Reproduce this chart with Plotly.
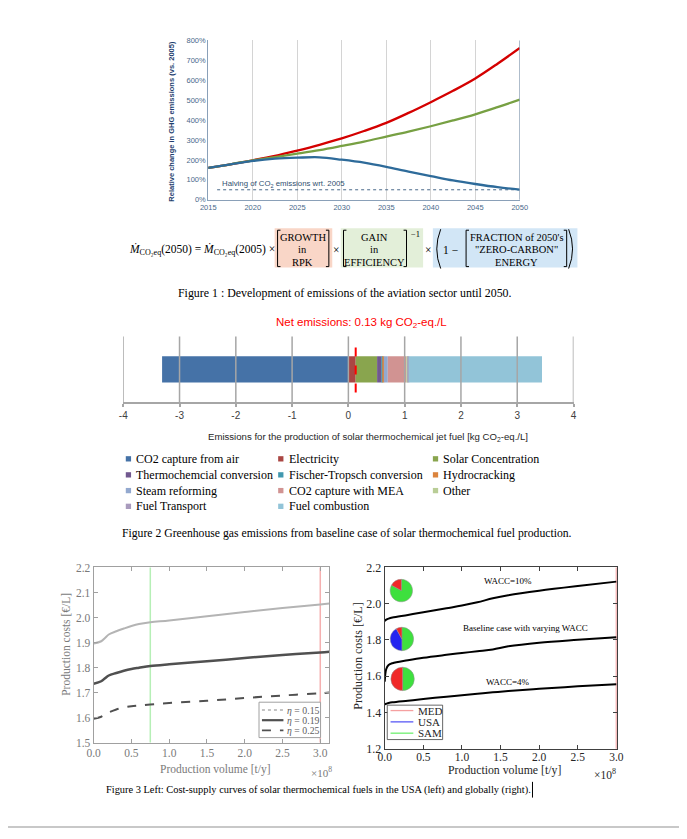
import plotly.graph_objects as go

W, H = 687, 839
def X(px): return px / W
def Y(py): return 1 - py / H

SERIF = "Liberation Serif"
SANS = "Liberation Sans"

# ---------------- Panel 1 data ----------------
years = [2015, 2017.5, 2020, 2022.5, 2025, 2027.5, 2030, 2032.5, 2035, 2037.5, 2040, 2042.5, 2045, 2047.5, 2050]
growth_only = [160, 178, 198, 220, 247, 276, 308, 345, 386, 436, 490, 547, 609, 683, 762]
with_efficiency = [160, 178, 198, 214, 231, 249, 270, 292, 317, 342, 369, 398, 429, 465, 503]
with_zero_carbon = [160, 178, 195, 206, 211, 213, 201, 186, 165, 141, 119, 97, 79, 63, 51]
halving_years = [2016, 2050]
halving_level = [50, 50]
year_ticks = [2015, 2020, 2025, 2030, 2035, 2040, 2045, 2050]
pct_ticks = [0, 100, 200, 300, 400, 500, 600, 700, 800]
pct_labels = ["0%", "100%", "200%", "300%", "400%", "500%", "600%", "700%", "800%"]

# ---------------- Panel 2 data ----------------
emission_sources = ["CO2 capture from air", "Electricity", "Solar Concentration",
                    "Thermochemcial conversion", "Fischer-Tropsch conversion", "Hydrocracking",
                    "Steam reforming", "CO2 capture with MEA", "Other",
                    "Fuel Transport", "Fuel combustion"]
emission_values = [-3.31, 0.13, 0.38, 0.08, 0.02, 0.02, 0.07, 0.33, 0.03, 0.01, 2.37]
net_emissions = [0.13]
emission_ticks = [-4, -3, -2, -1, 0, 1, 2, 3, 4]
emission_tick_labels = ["-4", "-3", "-2", "-1", "0", "1", "2", "3", "4"]
source_colors = ["#4572a7", "#aa4643", "#89a54e", "#71588f", "#4198af", "#db843d",
                 "#93a9cf", "#d19392", "#b9cd96", "#a99bbd", "#92c4d8"]

# ---------------- Panel 3 left data ----------------
vol_left = [0, 0.1, 0.15, 0.2, 0.3, 0.4, 0.5, 0.6, 0.75, 1.0, 1.5, 2.0, 2.5, 3.0, 3.12]
cost_eta015 = [1.896, 1.905, 1.918, 1.932, 1.945, 1.956, 1.966, 1.974, 1.981, 1.988, 2.005, 2.022, 2.038, 2.052, 2.056]
cost_eta019 = [1.735, 1.745, 1.757, 1.768, 1.778, 1.787, 1.794, 1.799, 1.806, 1.813, 1.825, 1.838, 1.850, 1.860, 1.863]
cost_eta025 = [1.595, 1.603, 1.612, 1.620, 1.632, 1.640, 1.645, 1.648, 1.652, 1.658, 1.667, 1.678, 1.688, 1.697, 1.700]
green_marker_vol = [0.75]
red_marker_vol = [3.0]
left_yticks = [1.5, 1.6, 1.7, 1.8, 1.9, 2.0, 2.1, 2.2]
vol_ticks = [0, 0.5, 1.0, 1.5, 2.0, 2.5, 3.0]

# ---------------- Panel 3 right data ----------------
vol_right = [0, 0.02, 0.05, 0.1, 0.3, 0.5, 0.8, 1.0, 1.2, 1.4, 1.6, 2.0, 2.5, 3.0]
cost_wacc10 = [1.905, 1.912, 1.918, 1.924, 1.938, 1.953, 1.975, 1.990, 2.008, 2.030, 2.047, 2.072, 2.098, 2.122]
cost_baseline = [1.570, 1.640, 1.662, 1.672, 1.688, 1.702, 1.718, 1.728, 1.738, 1.748, 1.765, 1.785, 1.801, 1.815]
cost_wacc4 = [1.445, 1.448, 1.452, 1.456, 1.465, 1.474, 1.487, 1.495, 1.503, 1.511, 1.518, 1.531, 1.544, 1.556]
regions = ["MED", "USA", "SAM"]
pie_wacc10_regions = ["SAM", "MED"]
pie_wacc10_share = [83, 17]
pie_baseline_regions = ["SAM", "USA", "MED"]
pie_baseline_share = [50, 42, 8]
pie_wacc4_regions = ["SAM", "MED"]
pie_wacc4_share = [50, 50]
right_yticks = [1.2, 1.4, 1.6, 1.8, 2.0, 2.2]
med_vol = [3.0]

fig = go.Figure()

# ---------- Panel 1 traces ----------
fig.add_trace(go.Scatter(x=halving_years, y=halving_level, mode="lines",
                         line=dict(color="#4a6a8a", width=1, dash="dot"), xaxis="x", yaxis="y", showlegend=False))
for ys, col in [(growth_only, "#d40000"), (with_efficiency, "#77a043"), (with_zero_carbon, "#2e6b9a")]:
    fig.add_trace(go.Scatter(x=years, y=ys, mode="lines", line=dict(color=col, width=2.3, shape="spline"),
                             xaxis="x", yaxis="y", showlegend=False))

# ---------- Panel 2 traces ----------
for name, v, c in zip(emission_sources, emission_values, source_colors):
    fig.add_trace(go.Bar(x=[v], y=[0], orientation="h", marker=dict(color=c, line=dict(width=0)),
                         width=0.4, name=name, xaxis="x2", yaxis="y2", showlegend=False))

# ---------- Panel 3 left traces ----------
fig.add_trace(go.Scatter(x=vol_left, y=cost_eta015, mode="lines", line=dict(color="#b4b4b4", width=2, shape="spline"),
                         xaxis="x3", yaxis="y3", showlegend=False))
fig.add_trace(go.Scatter(x=vol_left, y=cost_eta019, mode="lines", line=dict(color="#505050", width=2.5, shape="spline"),
                         xaxis="x3", yaxis="y3", showlegend=False))
fig.add_trace(go.Scatter(x=vol_left, y=cost_eta025, mode="lines", line=dict(color="#505050", width=2, dash="dash", shape="spline"),
                         xaxis="x3", yaxis="y3", showlegend=False))

# ---------- Panel 3 right traces ----------
for ys in [cost_wacc10, cost_baseline, cost_wacc4]:
    fig.add_trace(go.Scatter(x=vol_right, y=ys, mode="lines", line=dict(color="black", width=2, shape="spline"),
                             xaxis="x4", yaxis="y4", showlegend=False))

region_colors = {"MED": "#f02828", "USA": "#2424f0", "SAM": "#3ee03e"}
for labs, vals, (cx, cy, r) in [(pie_wacc10_regions, pie_wacc10_share, (402.7, 593.5, 11.5)),
                                (pie_baseline_regions, pie_baseline_share, (403.3, 642.7, 12)),
                                (pie_wacc4_regions, pie_wacc4_share, (404, 683.3, 12))]:
    fig.add_trace(go.Pie(values=vals, labels=labs, sort=False, direction="clockwise", rotation=0,
                         marker=dict(colors=[region_colors[l] for l in labs], line=dict(color="#909090", width=0.5)),
                         textinfo="none", hoverinfo="label+percent", showlegend=False,
                         domain=dict(x=[X(cx - r), X(cx + r)], y=[Y(cy + r), Y(cy - r)])))

shapes = []
shapes.append(dict(type="line", xref="x", yref="y domain", x0=year_ticks[-1], x1=year_ticks[-1], y0=0, y1=1,
                   line=dict(color="#8096ad", width=1.2)))
for t in emission_ticks:
    shapes.append(dict(type="line", xref="x2", yref="y2 domain", x0=t, x1=t, y0=0, y1=1,
                       line=dict(color="#a6a6a6", width=1.5), layer="above"))
shapes.append(dict(type="line", xref="x2", yref="y2", x0=net_emissions[0], x1=net_emissions[0], y0=-0.35, y1=0.4,
                   line=dict(color="#ff0000", width=2, dash="dash"), layer="above"))
shapes.append(dict(type="line", xref="x3", yref="y3 domain", x0=green_marker_vol[0], x1=green_marker_vol[0], y0=0, y1=1,
                   line=dict(color="#b6efb6", width=1.5), layer="below"))
shapes.append(dict(type="line", xref="x3", yref="y3 domain", x0=red_marker_vol[0], x1=red_marker_vol[0], y0=0, y1=1,
                   line=dict(color="#f5b0b0", width=1.5), layer="below"))
shapes.append(dict(type="line", xref="x4", yref="y4 domain", x0=med_vol[0], x1=med_vol[0], y0=0, y1=1,
                   line=dict(color="#f5a8a8", width=1.5), layer="below"))

def prect(x0, y0, x1, y1, fill, line=None, width=0, layer="below"):
    shapes.append(dict(type="rect", xref="paper", yref="paper", x0=X(x0), x1=X(x1), y0=Y(y1), y1=Y(y0),
                       fillcolor=fill, line=dict(color=line or fill, width=width), layer=layer))

def pline(x0, y0, x1, y1, color, width=1, dash="solid"):
    shapes.append(dict(type="line", xref="paper", yref="paper", x0=X(x0), x1=X(x1), y0=Y(y0), y1=Y(y1),
                       line=dict(color=color, width=width, dash=dash)))

def ppath(pts, color="black", width=1):
    d = "M" + " L".join(f"{X(a):.5f},{Y(b):.5f}" for a, b in pts)
    shapes.append(dict(type="path", xref="paper", yref="paper", path=d, line=dict(color=color, width=width)))

def paren(x, y0, y1, side):
    ym = (y0 + y1) / 2
    s = 1 if side == "l" else -1
    d = f"M{X(x+4*s):.5f},{Y(y0):.5f} Q{X(x-4*s):.5f},{Y(ym):.5f} {X(x+4*s):.5f},{Y(y1):.5f}"
    shapes.append(dict(type="path", xref="paper", yref="paper", path=d, line=dict(color="black", width=1)))

def bracket(x, y0, y1, side, w=3):
    s = 1 if side == "l" else -1
    ppath([(x + s * w, y0), (x, y0), (x, y1), (x + s * w, y1)], width=1)

annotations = []
def txt(s, px, py, size, color="black", family=SERIF, xanchor="center", yanchor="middle", angle=0):
    annotations.append(dict(text=s, x=X(px), y=Y(py), xref="paper", yref="paper", showarrow=False,
                            font=dict(size=size, color=color, family=family), xanchor=xanchor,
                            yanchor=yanchor, textangle=angle))

# ---------- Panel 1 text ----------
txt("<b>Relative change in GHG emissions (vs. 2005)</b>", 167, 116.5, 7.5, color="#1f3f6f", family=SANS, angle=-90)
annotations.append(dict(text="Halving of CO<sub>2</sub> emissions wrt. 2005", x=2016.3, y=50, xref="x", yref="y",
                        showarrow=False, font=dict(size=7.8, color="#2f4f6f", family=SANS),
                        xanchor="left", yanchor="bottom", yshift=-1))

# ---------- Formula ----------
prect(273, 225, 332, 265, "#f9d6c7")
prect(340.7, 225, 425, 265, "#e3efd9")
prect(435, 225, 583, 265, "#d2e6f6")
txt("<i>Ṁ</i><sub>CO₂eq</sub>(2050) = <i>Ṁ</i><sub>CO₂eq</sub>(2005) ×", 122, 247, 11.5, xanchor="left")
for i, line in enumerate(["GROWTH", "in", "RPK"]):
    txt(line, 302, 234 + 13 * i, 10.5)
bracket(276, 227, 264, "l"); bracket(328.5, 227, 264, "r")
txt("×", 336, 247, 11.5)
for i, line in enumerate(["GAIN", "in", "EFFICIENCY"]):
    txt(line, 375.5, 234 + 13 * i, 10.5)
bracket(343.5, 227, 264, "l"); bracket(408, 227, 264, "r")
txt("−1", 417, 231, 8.5)
txt("×", 430.5, 247, 11.5)
paren(439, 226, 266, "l")
txt("1 −", 453, 247, 11.5)
bracket(469, 227, 264, "l")
for i, line in enumerate(["FRACTION of 2050's", "\"ZERO-CARBON\"", "ENERGY"]):
    txt(line, 520.5, 234 + 13 * i, 10.5)
bracket(572, 227, 264, "r")
paren(578, 226, 266, "r")
txt("Figure 1 : Development of emissions of the aviation sector until 2050.", 345.5, 291, 11.9)

# ---------- Panel 2 text ----------
txt("Net emissions: 0.13 kg CO<sub>2</sub>-eq./L", 362, 321, 11.5, color="#ff0000", family=SANS)
txt("Emissions for the production of solar thermochemical jet fuel [kg CO<sub>2</sub>-eq./L]", 368.5, 437, 9.6,
    color="#262626", family=SANS)
col_marker = [123.3, 279.3, 437.7]
col_text = [129.3, 286, 443.3]
row_y = [459.5, 475.8, 491.8, 507.8]
for i, (name, c) in enumerate(zip(emission_sources, source_colors)):
    r, cidx = divmod(i, 3)
    shapes.append(dict(type="rect", xref="paper", yref="paper",
                       x0=X(col_marker[cidx] - 2.7), x1=X(col_marker[cidx] + 2.7),
                       y0=Y(row_y[r] + 2.7), y1=Y(row_y[r] - 2.7), fillcolor=c, line=dict(width=0)))
    txt(name, col_text[cidx], row_y[r], 12, xanchor="left")
txt("Figure 2 Greenhouse gas emissions from baseline case of solar thermochemical fuel production.", 347.5, 535, 11.7)

# ---------- Panel 3 left text / legend ----------
txt("Production costs [€/L]", 60, 648, 11.5, color="#7a7a7a", angle=-90)
txt("Production volume [t/y]", 212.5, 775, 11.5, color="#7a7a7a")
txt("×10<sup>8</sup>", 320.7, 777.5, 11, color="#7a7a7a")
prect(257, 707, 320, 743, "white", line="#a0a0a0", width=1, layer="above")
pline(260, 715, 282, 715, "#b0b0b0", 1.5, "dot")
pline(260, 725.3, 282, 725.3, "#505050", 2.2)
pline(260, 735.6, 282, 735.6, "#505050", 1.8, "dash")
for i, lab in enumerate(["<i>η</i> = 0.15", "<i>η</i> = 0.19", "<i>η</i> = 0.25"]):
    txt(lab, 283.5, 715 + 10.3 * i, 9.8, color="#606060", xanchor="left")

# ---------- Panel 3 right text / legend ----------
txt("Production costs [€/L]", 358, 660, 12, color="#262626", angle=-90)
txt("Production volume [t/y]", 508, 775.5, 11.8, color="#262626")
txt("×10<sup>8</sup>", 611.7, 780, 11.5, color="#262626")
txt("WACC=10%", 511.7, 583.3, 9)
txt("Baseline case with varying WACC", 530, 631.7, 9)
txt("WACC=4%", 511.7, 686, 9)
prect(388.3, 710, 445, 745, "white", line="#404040", width=0.8, layer="above")
for i, (lab, c) in enumerate(zip(regions, ["#f5a0a0", "#5a5af5", "#70f070"])):
    pline(391.7, 715.5 + 11.5 * i, 415, 715.5 + 11.5 * i, c, 1.3)
    txt(lab, 418, 715.5 + 11.5 * i, 11, color="#262626", xanchor="left")

txt("Figure 3 Left: Cost-supply curves of solar thermochemical fuels in the USA (left) and globally (right).", 318, 796, 10.4)
pline(537, 788, 537, 804, "black", 1)
pline(0, 834, W, 834, "#c8c8c8", 2)

fig.update_layout(
    width=W, height=H, margin=dict(l=0, r=0, t=0, b=0), autosize=False,
    paper_bgcolor="white", plot_bgcolor="rgba(0,0,0,0)",
    barmode="relative", showlegend=False,
    shapes=shapes, annotations=annotations,
    font=dict(family=SANS),
    xaxis=dict(domain=[X(205), X(524)], range=[2015, 2050], tickvals=year_ticks, showgrid=True,
               gridcolor="#d4d4d4", gridwidth=1, showline=True, linecolor="#8aa0b8", linewidth=1,
               ticks="", tickfont=dict(size=7.5, color="#4a6a8a", family=SANS), zeroline=False, anchor="y"),
    yaxis=dict(domain=[Y(196), Y(34)], range=[0, 800], tickvals=pct_ticks, ticktext=pct_labels, showgrid=False,
               showline=True, linecolor="#8aa0b8", linewidth=1, ticks="", zeroline=False,
               tickfont=dict(size=7.5, color="#4a6a8a", family=SANS), anchor="x"),
    xaxis2=dict(domain=[X(118), X(579)], range=[-4, 4], tickvals=emission_ticks, ticktext=emission_tick_labels,
                showgrid=False, showline=True, linecolor="#a6a6a6", linewidth=1.5, ticks="outside", ticklen=3,
                tickcolor="#a6a6a6", tickwidth=1.5, zeroline=False,
                tickfont=dict(size=10, color="#404040", family=SANS), anchor="y2"),
    yaxis2=dict(domain=[Y(402), Y(335)], range=[-0.5, 0.5], visible=False, anchor="x2"),
    xaxis3=dict(domain=[X(87.7), X(329)], range=[0, 3.12], tickvals=vol_ticks, tickformat=".1f",
                showgrid=False, zeroline=False, showline=True, mirror="ticks", linecolor="#a0a0a0",
                ticks="inside", ticklen=4, tickcolor="#a0a0a0",
                tickfont=dict(size=11.5, color="#7a7a7a", family=SERIF), anchor="y3"),
    yaxis3=dict(domain=[Y(748), Y(570)], range=[1.5, 2.2], tickvals=left_yticks, tickformat=".1f",
                showgrid=False, zeroline=False, showline=True, mirror="ticks", linecolor="#a0a0a0",
                ticks="inside", ticklen=4, tickcolor="#a0a0a0",
                tickfont=dict(size=11.5, color="#7a7a7a", family=SERIF), anchor="x3"),
    xaxis4=dict(domain=[X(385.7), X(623.3)], range=[0, 3.005], tickvals=vol_ticks, tickformat=".1f",
                showgrid=False, zeroline=False, showline=True, mirror="ticks", linecolor="#404040",
                ticks="inside", ticklen=4, tickcolor="#404040", ticklabelstandoff=-3,
                tickfont=dict(size=11.5, color="#262626", family=SERIF), anchor="y4"),
    yaxis4=dict(domain=[Y(754.3), Y(570)], range=[1.2, 2.2], tickvals=right_yticks, tickformat=".1f",
                showgrid=False, zeroline=False, showline=True, mirror="ticks", linecolor="#404040",
                ticks="inside", ticklen=4, tickcolor="#404040",
                tickfont=dict(size=12, color="#262626", family=SERIF), anchor="x4"),
)

fig.write_html("out.html", config={"displayModeBar": False},
               post_script="document.body.style.margin='0';document.documentElement.style.overflow='hidden';")
